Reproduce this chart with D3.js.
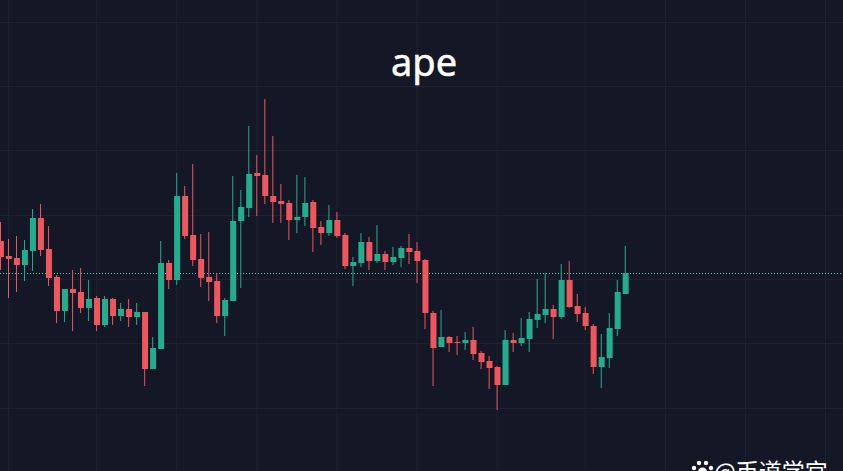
<!DOCTYPE html>
<html>
<head>
<meta charset="utf-8">
<script src="https://cdn.jsdelivr.net/npm/d3@7"></script>
<style>
  html, body { margin: 0; padding: 0; background: #141826; overflow: hidden; }
  svg { display: block; }
</style>
</head>
<body>
<svg id="chart"></svg>
<script>
// prices, one entry per candle
const opens = [2.30,2.15,2.13,2.06,2.20,2.53,2.22,1.94,1.60,1.82,1.79,1.63,1.73,1.46,1.72,1.55,1.62,1.54,1.59,1.02,
  1.22,2.08,1.91,2.75,2.36,2.12,1.94,1.90,1.55,1.70,2.50,2.63,2.98,2.96,2.75,2.70,2.68,2.51,2.54,2.69,
  2.44,2.38,2.51,2.36,2.05,2.08,2.29,2.10,2.17,2.09,2.13,2.23,2.20,2.11,1.58,1.24,1.34,1.29,1.28,1.31,
  1.18,1.10,1.04,0.86,1.31,1.28,1.32,1.51,1.56,1.62,1.54,1.91,1.65,1.58,1.45,1.04,1.13,1.42,1.77];
const highs = [2.49,2.32,2.35,2.31,2.62,2.67,2.45,1.96,1.82,2.01,2.03,1.91,1.75,1.75,1.73,1.68,1.72,1.68,1.59,1.34,
  2.30,2.11,2.98,2.85,3.07,2.37,2.39,1.98,1.73,2.95,2.81,3.45,3.16,3.72,3.35,2.87,2.71,2.96,2.94,2.71,
  2.50,2.66,2.59,2.38,2.14,2.38,2.34,2.46,2.20,2.24,2.25,2.37,2.29,2.12,1.60,1.61,1.35,1.35,1.39,1.44,
  1.20,1.15,1.05,1.41,1.38,1.53,1.59,1.92,1.98,1.66,2.07,2.10,1.77,1.64,1.47,1.37,1.58,1.91,2.25];
const lows = [2.01,1.73,1.79,1.90,2.00,2.15,1.85,1.48,1.49,1.40,1.58,1.50,1.40,1.44,1.46,1.50,1.44,1.46,0.85,1.02,
  1.22,1.82,1.86,2.32,2.05,1.84,1.70,1.48,1.35,1.70,1.83,2.54,2.55,2.67,2.48,2.48,2.31,2.38,2.45,2.19,
  2.26,2.35,2.33,2.02,1.85,2.04,2.01,2.08,2.01,2.06,2.04,2.07,1.88,1.42,0.85,1.24,1.19,1.16,1.21,1.11,
  1.02,0.82,0.61,0.86,1.19,1.25,1.19,1.43,1.48,1.32,1.52,1.63,1.49,1.41,0.97,0.83,1.03,1.35,1.77];
const closes = [2.14,2.12,2.06,2.21,2.53,2.21,1.93,1.60,1.82,1.78,1.63,1.72,1.46,1.72,1.55,1.62,1.54,1.59,1.02,1.23,
  2.08,1.91,2.75,2.35,2.11,1.93,1.89,1.55,1.71,2.50,2.64,2.97,2.95,2.75,2.69,2.67,2.51,2.54,2.68,2.43,
  2.38,2.51,2.35,2.05,2.09,2.29,2.10,2.17,2.09,2.14,2.23,2.19,2.10,1.58,1.23,1.34,1.28,1.28,1.31,1.17,
  1.09,1.03,0.86,1.31,1.28,1.33,1.52,1.57,1.62,1.54,1.91,1.64,1.57,1.45,1.04,1.14,1.43,1.79,1.98];
const lastPrice = 1.98;
const gridPrices = [4.49,3.85,3.21,2.56,1.92,1.28,0.63];
const gridCandles = [1,12,22,32,42,52,62,73,83,93,103];

const width = 843, height = 471;
const upColor = "#20ae8e", downColor = "#f0565c";

const svg = d3.select("#chart").attr("width", width).attr("height", height);
svg.append("rect").attr("width", width).attr("height", height).attr("fill", "#141826");

// one candle about every 8px, first one sits on the left edge
const x = d3.scaleLinear().domain([0, 1]).range([0.5, 8.51]);
const y = d3.scaleLinear().domain([0, 4.71]).range([height, 0]);
const bodyWidth = 6;

// grid
const yGrid = svg.append("g")
  .call(d3.axisLeft(y).tickValues(gridPrices).tickSize(-width).tickFormat(""));
const xGrid = svg.append("g")
  .attr("transform", `translate(0, ${height})`)
  .call(d3.axisBottom(x).tickValues(gridCandles).tickSize(-height).tickFormat("").offset(0));
[yGrid, xGrid].forEach(g => {
  g.select(".domain").remove();
  g.selectAll("line").attr("stroke", "#1e2230").attr("stroke-width", 1);
});

// last price line
svg.append("line")
  .attr("x1", 0).attr("x2", width)
  .attr("y1", y(lastPrice) + 0.5).attr("y2", y(lastPrice) + 0.5)
  .attr("stroke", "#45d0b4")
  .attr("stroke-width", 1)
  .attr("stroke-dasharray", "1 2");

// candles
const candles = svg.append("g").selectAll("g")
  .data(d3.range(opens.length))
  .join("g")
  .attr("fill", i => closes[i] >= opens[i] ? upColor : downColor)
  .attr("stroke", i => closes[i] >= opens[i] ? upColor : downColor);
candles.append("line")
  .attr("x1", i => x(i)).attr("x2", i => x(i))
  .attr("y1", i => y(highs[i])).attr("y2", i => y(lows[i]))
  .attr("stroke-width", 1);
candles.append("rect")
  .attr("x", i => x(i) - 2.6)
  .attr("width", bodyWidth)
  .attr("y", i => y(Math.max(opens[i], closes[i])))
  .attr("height", i => Math.abs(opens[i] - closes[i]) * (height / 4.71))
  .attr("stroke", "none");

// title
svg.append("text")
  .attr("x", 424).attr("y", 76)
  .attr("text-anchor", "middle")
  .attr("font-family", "'Noto Sans', sans-serif")
  .attr("font-size", 38)
  .attr("fill", "#ffffff")
  .attr("stroke", "#ffffff")
  .attr("stroke-width", 0.5)
  .text("ape");

// watermark, cut off by the bottom of the picture
const mark = svg.append("g").attr("fill", "#ffffff");
[[694, 468, 2.2], [699, 463, 2.2], [706, 463, 2.2], [711, 468, 2.2], [702.5, 472, 4.5]].forEach(d => {
  mark.append("circle").attr("cx", d[0]).attr("cy", d[1]).attr("r", d[2]);
});
mark.append("text")
  .attr("x", 714).attr("y", 480)
  .attr("font-family", "'Noto Sans CJK SC', sans-serif")
  .attr("font-size", 23)
  .text("@币道学宫");
</script>
</body>
</html>
